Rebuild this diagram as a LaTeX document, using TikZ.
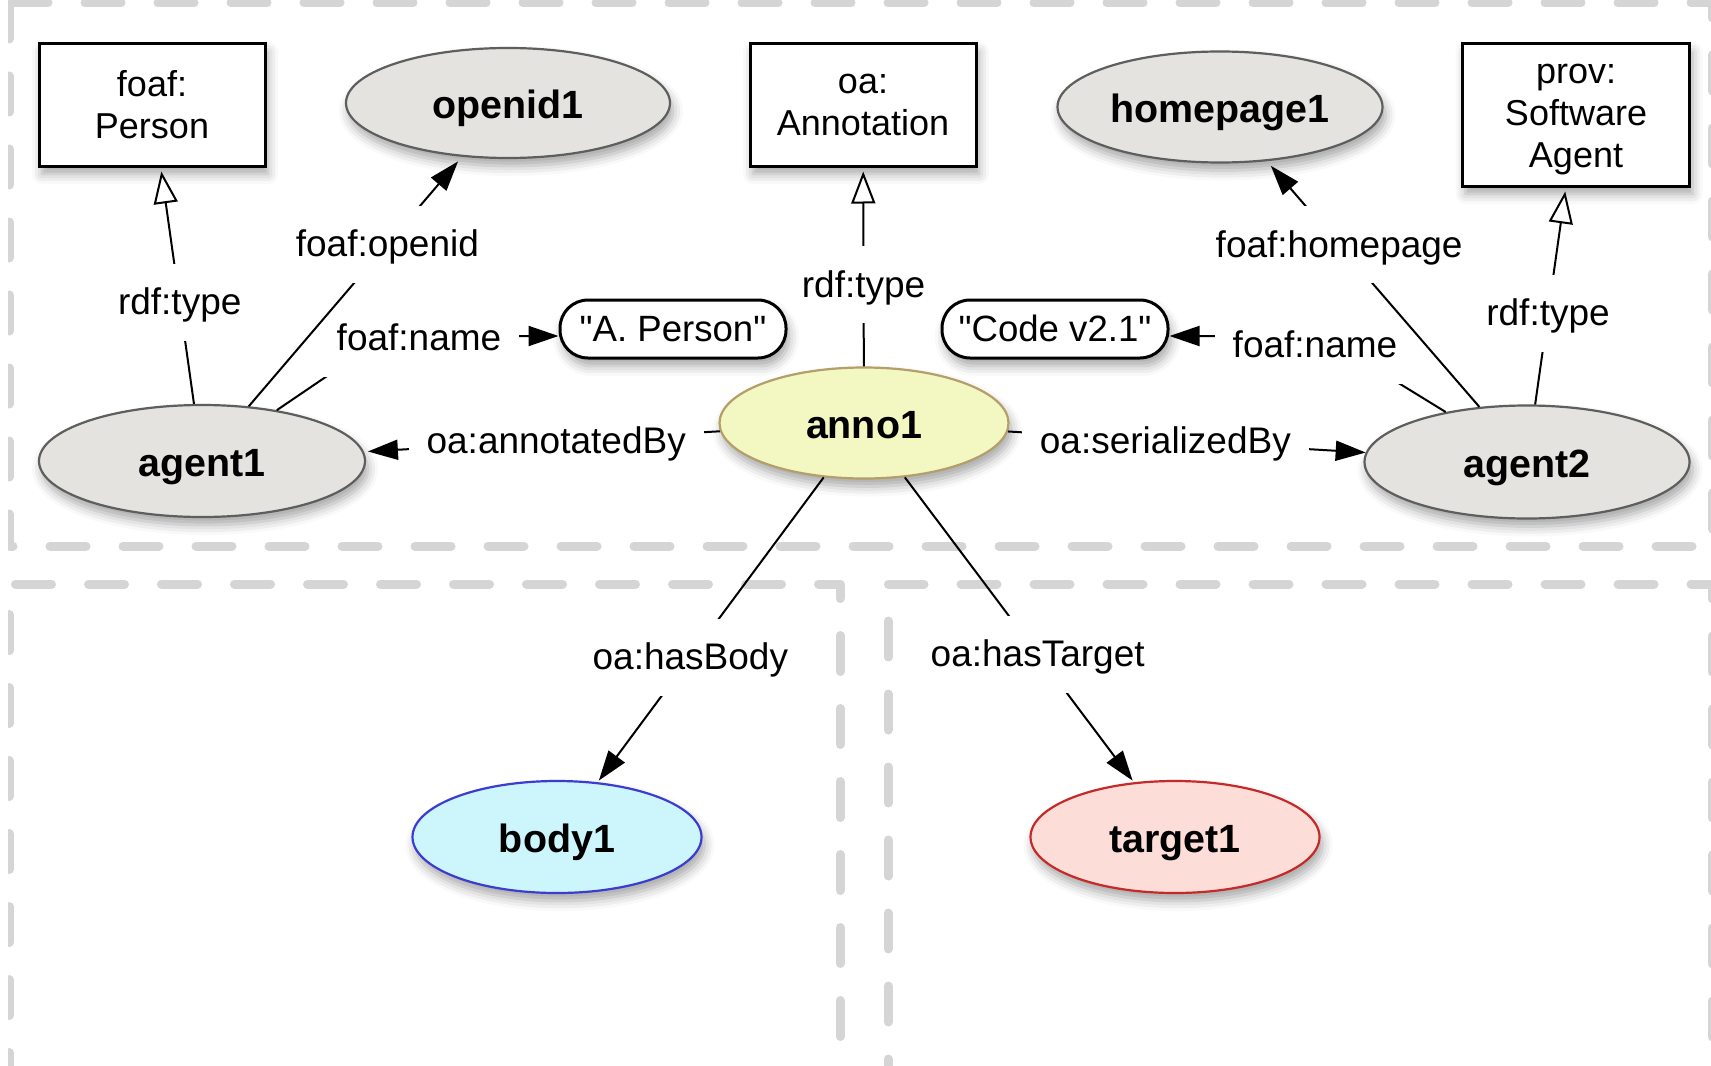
\documentclass[tikz,border=0pt]{standalone}
\usepackage{fontspec}
\setmainfont{Liberation Sans}
\usetikzlibrary{arrows.meta,shapes.geometric,shadows.blur}

\definecolor{framegray}{HTML}{D5D5D5}
\definecolor{nodegray}{HTML}{E4E3DF}
\definecolor{nodegrayline}{HTML}{5E5E5E}
\definecolor{annofill}{HTML}{F3F7C2}
\definecolor{annoline}{HTML}{B49E6A}
\definecolor{bodyfill}{HTML}{CDF6FC}
\definecolor{bodyline}{HTML}{3C3CD0}
\definecolor{targetfill}{HTML}{FDDDD8}
\definecolor{targetline}{HTML}{C42A2A}

\begin{document}
\begin{tikzpicture}[x=0.5pt,y=-0.5pt,
  framebox/.style={draw=framegray, line width=4.5pt, line cap=round, line join=round, dash pattern=on 18pt off 18.5pt},
  nshadow/.style={blur shadow={shadow xshift=1.5pt, shadow yshift=-4pt, shadow blur radius=5pt, shadow opacity=35}},
  res/.style={ellipse, nshadow, draw=nodegrayline, fill=nodegray, line width=1.1pt, inner sep=0pt,
    minimum width=162pt, minimum height=56pt, text height=15.5pt, text depth=0.2pt,
    font=\fontsize{19.7}{23}\selectfont\bfseries},
  cls/.style={rectangle, nshadow, draw=black, fill=white, line width=1.5pt, inner sep=0pt,
    minimum width=113pt, minimum height=61pt, align=center, font=\fontsize{18}{21}\selectfont},
  lit/.style={rectangle, rounded corners=14pt, nshadow, draw=black, fill=white, line width=1.5pt, inner sep=0pt,
    minimum width=113pt, minimum height=29pt, text height=12.2pt, text depth=0.2pt, font=\fontsize{18.3}{21}\selectfont},
  lbl/.style={fill=white, inner xsep=9pt, inner ysep=10pt, text height=15.5pt, text depth=3pt,
    font=\fontsize{18.5}{21}\selectfont},
  rel/.style={draw=black, line width=1pt, -{Triangle[length=15pt,width=10pt]}, shorten >=2pt},
  typ/.style={draw=black, line width=1pt, -{Triangle[open,length=16pt,width=12pt,fill=white]}, shorten >=2pt},
]
\useasboundingbox (0,0) rectangle (1711,1065);

% frames
\begin{scope}
  \clip (8,0) rectangle (1711,1065);
  \draw[framebox] (9,3) rectangle (1712,546);
  \draw[framebox, dash phase=36.25pt] (840,1110) -- (840,584) -- (9,584) -- (9,1110);
  \draw[framebox, dash phase=29pt] (888,1110) -- (888,584) -- (1712,584) -- (1712,1110);
\end{scope}

% nodes
\node[cls] (person) at (152,105) {foaf:\\Person};
\node[res, minimum height=55pt] (openid) at (508,103) {openid1};
\node[cls] (annot) at (863,105) {oa:\\Annotation};
\node[res, minimum width=162.5pt, minimum height=55.5pt] (homepage) at (1220,107) {homepage1};
\node[cls, minimum height=71pt, minimum width=113.5pt] (swagent) at (1576,115) {\rule{0pt}{14pt}prov:\\Software\\Agent};
\node[lit] (aperson) at (673,329) {\textquotedbl A. Person\textquotedbl};
\node[lit] (code) at (1055,329) {\textquotedbl Code v2.1\textquotedbl};
\node[res, minimum width=163pt] (agent1) at (202,461) {agent1};
\node[res, fill=annofill, draw=annoline, minimum width=144.5pt, minimum height=55.5pt] (anno1) at (864,423) {anno1};
\node[res, minimum width=162.5pt, minimum height=56.5pt] (agent2) at (1527,462) {agent2};
\node[res, fill=bodyfill, draw=bodyline, minimum width=144.5pt] (body1) at (557,837) {body1};
\node[res, fill=targetfill, draw=targetline, minimum width=144.5pt] (target1) at (1175,837) {target1};

% edges
\coordinate (bend1) at (386,336);
\coordinate (bend2) at (1322,336);

\draw[rel, shorten >=0pt] (agent1) -- (bend1) -- (aperson.west |- bend1);
\node[lbl] (lname1) at (419,338) {foaf:name};

\draw[typ] (agent1) -- node[lbl, pos=0.43] (ltype1) {rdf:type} (person);
\draw[rel, shorten >=3pt] (agent1) -- node[lbl, pos=0.65] (lopenid) {foaf:openid} (openid);

\draw[typ] (anno1) -- node[lbl, pos=0.41, inner xsep=3pt] (ltype2) {rdf:type} (annot);
\draw[rel] (anno1) -- node[lbl, pos=0.46] (lannot) {oa:annotatedBy} (agent1);
\draw[rel, shorten >=0pt] (anno1) -- node[lbl, pos=0.44] (lserial) {oa:serializedBy} (agent2);

\draw[rel, shorten >=0pt] (agent2) -- (bend2) -- (code.east |- bend2);
\node[lbl] (lname2) at (1315,345) {foaf:name};

\draw[rel, shorten >=3pt] (agent2) -- node[lbl, pos=0.66] (lhome) {foaf:homepage} (homepage);
\draw[typ] (agent2) -- node[lbl, pos=0.42] (ltype3) {rdf:type} (swagent);

\draw[rel, shorten >=1pt] (anno1) -- node[lbl, pos=0.59] (lbody) {oa:hasBody} (body1);
\draw[rel, shorten >=1pt] (anno1) -- node[lbl, pos=0.58] (ltarget) {oa:hasTarget} (target1);
\end{tikzpicture}
\end{document}
